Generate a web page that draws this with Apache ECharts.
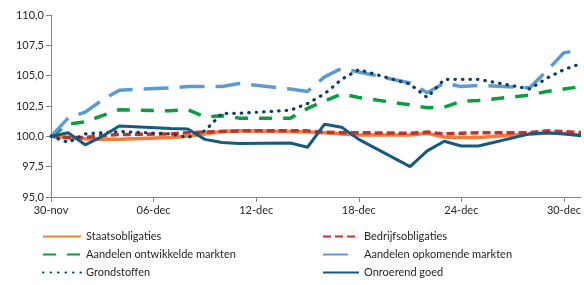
<!DOCTYPE html>
<html><head><meta charset="utf-8">
<script src="https://cdn.jsdelivr.net/npm/echarts@6/dist/echarts.min.js"></script>
<style>html,body{margin:0;padding:0;background:#fff}#c{width:584px;height:285px}</style>
</head><body><div id="c"></div>
<script>
const categories = ["30-nov","01-dec","02-dec","03-dec","04-dec","05-dec","06-dec","07-dec","08-dec","09-dec","10-dec","11-dec","12-dec","13-dec","14-dec","15-dec","16-dec","17-dec","18-dec","19-dec","20-dec","21-dec","22-dec","23-dec","24-dec","25-dec","26-dec","27-dec","28-dec","29-dec","30-dec","31-dec"];
const yTicks = [95, 97.5, 100, 102.5, 105, 107.5, 110];
// null = weekend (no quote)
const staatsobligaties = [100,99.9,99.8,99.75,99.75,null,null,99.9,100.0,100.2,100.4,100.45,null,null,100.4,100.35,100.3,100.2,100.1,null,null,100.1,100.25,99.95,99.9,99.9,null,null,100.2,100.25,100.25,100.1];
const bedrijfsobligaties = [100,99.9,99.9,100.05,100.15,null,null,100.2,100.3,100.35,100.4,100.45,null,null,100.45,100.45,100.35,100.3,100.3,null,null,100.25,100.35,100.2,100.25,100.3,null,null,100.3,100.45,100.4,100.3];
const aandelenOntwikkeld = [100,101.0,101.2,101.7,102.2,null,null,102.1,102.2,101.6,101.7,101.5,null,null,101.5,102.3,102.9,103.5,103.2,null,null,102.6,102.35,102.4,102.9,102.95,null,null,103.4,103.7,103.9,104.1];
const aandelenOpkomend = [100,101.5,102.0,103.0,103.8,null,null,104.0,104.1,104.1,104.1,104.35,null,null,103.9,103.7,104.9,105.6,105.3,null,null,104.4,103.6,104.4,104.1,104.2,null,null,104.0,105.4,106.9,107.1];
const grondstoffen = [100,99.5,100.2,100.3,100.4,null,null,100.2,99.9,100.45,101.9,101.9,null,null,102.15,102.7,103.5,104.7,105.5,null,null,104.3,103.2,104.7,104.7,104.7,null,null,103.9,104.8,105.5,106.0];
const onroerendGoed = [100,100.3,99.3,100.0,100.85,null,null,100.65,100.6,99.75,99.5,99.4,null,null,99.45,99.1,101.0,100.75,99.75,null,null,97.5,98.8,99.6,99.2,99.2,null,null,100.2,100.3,100.2,100.05];

const names = ["Staatsobligaties","Bedrijfsobligaties","Aandelen ontwikkelde markten","Aandelen opkomende markten","Grondstoffen","Onroerend goed"];
const FONT = 'Lato';
function mk(name, data, color, width, type, cap) {
  return {name, type:'line', data, connectNulls:true, symbol:'none', smooth:false,
    lineStyle:{color, width, type, cap: cap||'butt'}, itemStyle:{color}};
}
const legendCommon = {orient:'vertical', top:231, padding:0, itemHeight:12, itemGap:7, itemTextGap:4,
  itemStyle:{opacity:0}, textStyle:{fontSize:11, fontFamily:FONT, color:'#262626'}};
const chart = echarts.init(document.getElementById('c'), null, {renderer:'canvas'});
chart.setOption({
  animation:false,
  grid:{left:51, right:1, top:15, bottom:88, containLabel:false},
  xAxis:{type:'category', data:categories, boundaryGap:false,
    axisLine:{lineStyle:{color:'#868686', width:1}},
    axisTick:{show:true, interval:5, length:5, lineStyle:{color:'#868686'}},
    axisLabel:{interval:5, color:'#262626', fontSize:11, fontFamily:FONT, margin:8}},
  yAxis:{type:'value', min:95, max:110, interval:2.5,
    splitLine:{show:false},
    axisLine:{show:true, lineStyle:{color:'#868686', width:1}},
    axisTick:{show:true, length:5, lineStyle:{color:'#868686'}},
    axisLabel:{color:'#262626', fontSize:11, fontFamily:FONT, margin:7,
      formatter:v=>v.toFixed(1).replace('.', ',')}},
  legend:[
    Object.assign({}, legendCommon, {data:[names[0],names[2],names[4]], left:42, itemWidth:38}),
    Object.assign({}, legendCommon, {data:[names[1],names[3],names[5]], left:322, itemWidth:36})
  ],
  series:[
    mk(names[0], staatsobligaties, '#F07D3A', 3.5, 'solid'),
    mk(names[1], bedrijfsobligaties, '#C8302A', 3.5, [8,4]),
    mk(names[2], aandelenOntwikkeld, '#0B9E3E', 3.5, [13,11]),
    mk(names[3], aandelenOpkomend, '#5B9BD5', 3.5, [25,11]),
    mk(names[4], grondstoffen, '#0D3D60', 3.2, [0.5,7], 'round'),
    mk(names[5], onroerendGoed, '#165A80', 3, 'solid')
  ]
});
</script></body></html>
